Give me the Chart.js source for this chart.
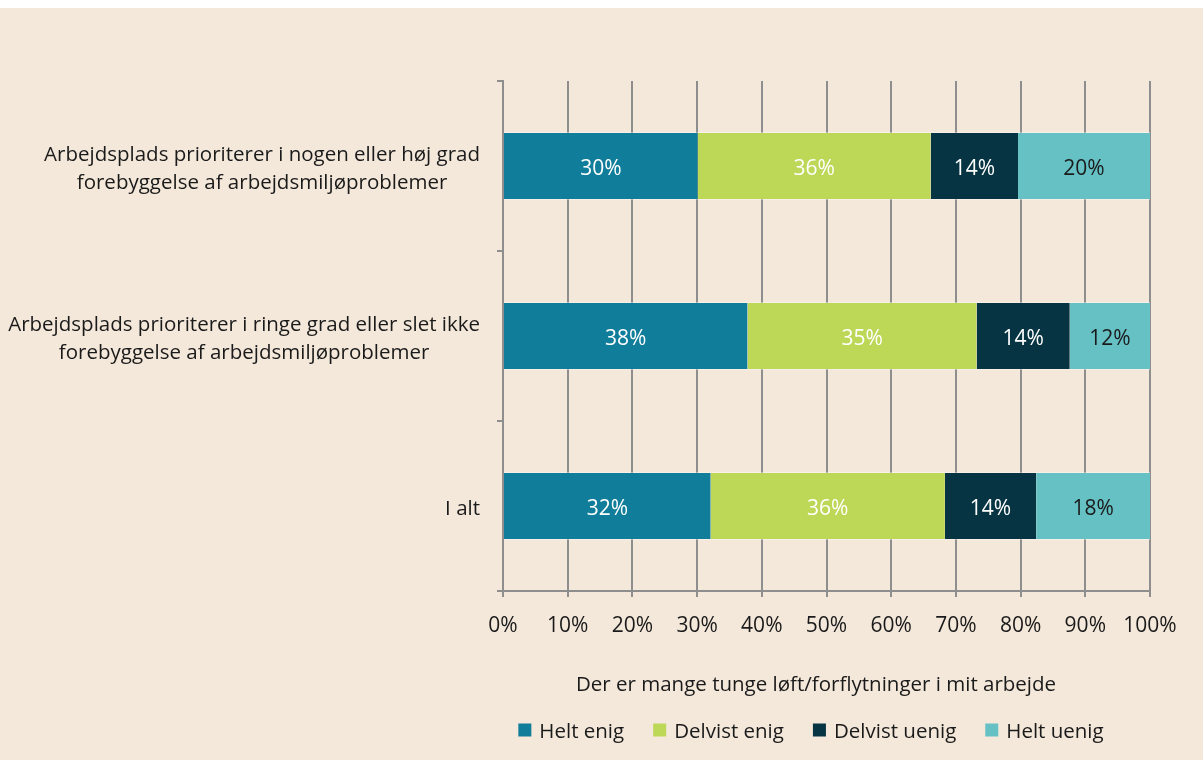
<!DOCTYPE html>
<html>
<head>
<meta charset="utf-8">
<script src="https://cdn.jsdelivr.net/npm/chart.js@4"></script>
<style>
    html, body { margin: 0; padding: 0; background: #ffffff; }
    #wrap { position: absolute; left: 0; top: 8px; width: 1203px; height: 752px; background: #f4e8db; }
</style>
</head>
<body>
<div id="wrap"><canvas id="chart" width="1203" height="752"></canvas></div>
<script>
// Data
const categories = [
    ["Arbejdsplads prioriterer i nogen eller høj grad", "forebyggelse af arbejdsmiljøproblemer"],
    ["Arbejdsplads prioriterer i ringe grad eller slet ikke", "forebyggelse af arbejdsmiljøproblemer"],
    ["I alt"],
];
const seriesNames = ["Helt enig", "Delvist enig", "Delvist uenig", "Helt uenig"];
const heltEnig = [30.1, 37.8, 32.1];
const delvistEnig = [36.0, 35.4, 36.2];
const delvistUenig = [13.5, 14.4, 14.1];
const heltUenig = [20.4, 12.4, 17.6];
const xTicks = [0, 10, 20, 30, 40, 50, 60, 70, 80, 90, 100];
const axisTitle = "Der er mange tunge løft/forflytninger i mit arbejde";

// Styles
const colors = ["#107d9a", "#bdd757", "#073442", "#66c1c5"];
const labelColors = ["#ffffff", "#ffffff", "#ffffff", "#1a1a1a"];
const gridColor = "#8e8e8e";
const textColor = "#1a1a1a";
const fontFamily = "'Open Sans', sans-serif";

const seriesValues = [heltEnig, delvistEnig, delvistUenig, heltUenig];

// Draws value labels, category labels, axis title and legend
const customText = {
    id: "customText",
    afterDatasetsDraw(chart) {
        const ctx = chart.ctx;
        ctx.save();
        // value labels in the middle of each segment
        ctx.font = "21px " + fontFamily;
        ctx.textAlign = "center";
        ctx.textBaseline = "middle";
        chart.data.datasets.forEach((ds, i) => {
            chart.getDatasetMeta(i).data.forEach((bar, j) => {
                const p = bar.getProps(["x", "y", "base"], true);
                ctx.fillStyle = labelColors[i];
                ctx.fillText(Math.round(ds.data[j]) + "%", (p.x + p.base) / 2, p.y + 3);
            });
        });

        // category labels: block right aligned, lines centred in block
        const yScale = chart.scales.y;
        ctx.font = "20.5px " + fontFamily;
        ctx.fillStyle = textColor;
        const right = chart.chartArea.left - 23;
        const lineH = 28;
        categories.forEach((lines, i) => {
            const yc = yScale.getPixelForValue(i) + 3;
            const w = Math.max(...lines.map((l) => ctx.measureText(l).width));
            const cx = right - w / 2;
            lines.forEach((l, k) => {
                ctx.fillText(l, cx, yc + (k - (lines.length - 1) / 2) * lineH);
            });
        });

        // x axis title
        ctx.fillText(axisTitle, 816, 677);

        // legend
        const box = 13, boxGap = 8, itemGap = 29;
        const widths = seriesNames.map((n) => box + boxGap + ctx.measureText(n).width);
        const total = widths.reduce((a, b) => a + b, 0) + itemGap * (seriesNames.length - 1);
        let x = 811 - total / 2;
        const ly = 722;
        ctx.textAlign = "left";
        seriesNames.forEach((n, i) => {
            ctx.fillStyle = colors[i];
            ctx.fillRect(x, ly - box / 2, box, box);
            ctx.fillStyle = textColor;
            ctx.fillText(n, x + box + boxGap, ly + 2);
            x += widths[i] + itemGap;
        });
        ctx.restore();
    },
};

const ctx = document.getElementById("chart").getContext("2d");
new Chart(ctx, {
    type: "bar",
    data: {
        labels: categories,
        datasets: seriesNames.map((name, i) => ({
            label: name,
            data: seriesValues[i],
            backgroundColor: colors[i],
            borderColor: "rgba(255,255,255,0.35)",
            borderWidth: { top: 1, bottom: 1, left: 0, right: 0 },
            borderSkipped: false,
            categoryPercentage: 1,
            barPercentage: 0.4,
        })),
    },
    options: {
        indexAxis: "y",
        responsive: false,
        animation: false,
        layout: { padding: { top: 73, right: 53, left: 0, bottom: 0 } },
        plugins: {
            legend: { display: false },
            tooltip: { enabled: false },
        },
        scales: {
            x: {
                stacked: true,
                min: 0,
                max: 100,
                afterBuildTicks: (scale) => {
                    scale.ticks = xTicks.map((v) => ({ value: v }));
                },
                afterFit: (scale) => {
                    scale.height = 169;
                },
                ticks: {
                    callback: (v) => v + "%",
                    color: textColor,
                    font: { family: fontFamily, size: 21 },
                    padding: 16,
                    maxRotation: 0,
                },
                grid: {
                    color: gridColor,
                    lineWidth: 2,
                    tickLength: 6,
                },
                border: { color: gridColor, width: 2 },
            },
            y: {
                stacked: true,
                afterFit: (scale) => {
                    scale.width = 503;
                },
                ticks: { display: false },
                grid: {
                    offset: true,
                    drawOnChartArea: false,
                    drawTicks: true,
                    tickLength: 6,
                    color: gridColor,
                    lineWidth: 2,
                },
                border: { color: gridColor, width: 2 },
            },
        },
    },
    plugins: [customText],
});
</script>
</body>
</html>
